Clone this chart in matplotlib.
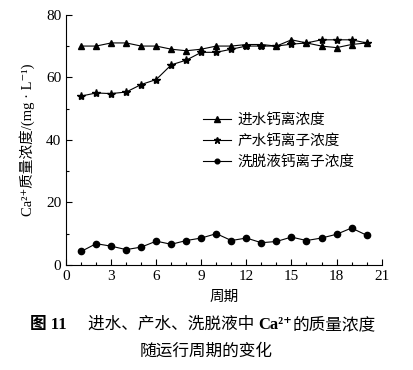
import numpy as np
import matplotlib.pyplot as plt
from matplotlib.ticker import MultipleLocator

plt.rcParams['font.family'] = ['Liberation Serif', 'DejaVu Serif', 'Noto Sans CJK SC']

period = np.arange(1, 21)
inflow = [70, 70, 71, 71, 70, 70, 69, 68.5, 69, 70, 70, 70.5, 70.5, 70, 72, 71, 70, 69.5, 70.5, 71]
product = [54, 55, 54.8, 55.3, 57.7, 59.3, 64, 65.5, 68, 68, 69, 70, 70, 70, 70.6, 71, 72, 72, 72, 71]
eluent = [4.3, 6.8, 6.0, 4.9, 5.7, 7.6, 6.6, 7.8, 8.6, 10, 7.8, 8.6, 7.1, 7.5, 8.9, 7.8, 8.6, 9.8, 11.8, 9.5]
labels = ['进水钙离浓度', '产水钙离子浓度', '洗脱液钙离子浓度']

fig = plt.figure(figsize=(4.13, 3.70), dpi=100)
ax = fig.add_axes([0.160, 0.284, 0.764, 0.676])

ax.plot(period, inflow, color='black', lw=0.8, marker='^', ms=5, label=labels[0])
ax.plot(period, product, color='black', lw=0.8, marker='*', ms=6, label=labels[1])
ax.plot(period, eluent, color='black', lw=0.8, marker='o', ms=4.5, label=labels[2])

ax.set_xlim(0, 21)
ax.set_ylim(0, 80)
ax.xaxis.set_major_locator(MultipleLocator(3))
ax.xaxis.set_minor_locator(MultipleLocator(1))
ax.yaxis.set_major_locator(MultipleLocator(20))
ax.yaxis.set_minor_locator(MultipleLocator(10))
ax.tick_params(which='both', direction='in', labelsize=11, width=0.8)
ax.tick_params(which='major', length=4)
ax.tick_params(which='minor', length=2.5)
ax.spines['top'].set_visible(False)
ax.spines['right'].set_visible(False)

ax.set_xlabel('周期', fontsize=10.5, labelpad=6)
ax.set_ylabel('Ca²⁺质量浓度/(mg · L⁻¹)', fontsize=10.5, labelpad=8)

ax.legend(loc='upper left', bbox_to_anchor=(0.415, 0.63), frameon=False,
          fontsize=10.5, handlelength=1.9, handletextpad=0.5, labelspacing=0.5,
          borderaxespad=0, markerscale=0.75)

# caption, built from pieces so that only 图 11 and Ca²⁺ are bold
renderer = fig.canvas.get_renderer()
y1 = 1 - 325 / 370
t = fig.text(30 / 413, y1, '图 11', fontsize=12, fontweight='bold', va='center')
t = fig.text(88 / 413, y1, '进水、产水、洗脱液中 ', fontsize=12, va='center')
for piece, weight in [('Ca²⁺', 'bold'), ('的质量浓度', 'normal')]:
    x0 = fig.transFigure.inverted().transform(t.get_window_extent(renderer).p1)[0]
    t = fig.text(x0, y1, piece, fontsize=12, fontweight=weight, va='center')
fig.text(206 / 413, 1 - 352 / 370, '随运行周期的变化', fontsize=12, va='center', ha='center')

fig.savefig('out.png', dpi=100)
